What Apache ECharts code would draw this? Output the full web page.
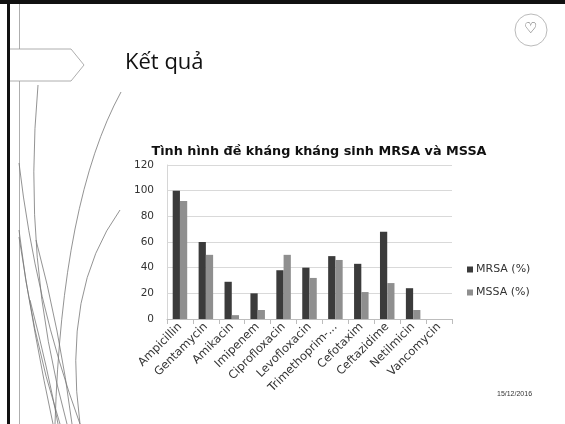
<!DOCTYPE html>
<html>
<head>
<meta charset="utf-8">
<script src="https://cdn.jsdelivr.net/npm/echarts@6/dist/echarts.min.js"></script>
<style>html,body{margin:0;padding:0;background:#fff}#c{width:565px;height:424px}</style>
</head>
<body>
<div id="c"></div>
<script>
var categories = ['Ampicillin','Gentamycin','Amikacin','Imipenem','Ciprofloxacin','Levofloxacin','Trimethoprim-...','Cefotaxim','Ceftazidime','Netilmicin','Vancomycin'];
var mrsaValues = [100, 60, 29, 20, 38, 40, 49, 43, 68, 24, 0];
var mssaValues = [92, 50, 3, 7, 50, 32, 46, 21, 28, 7, 0];
var seriesNames = ['MRSA (%)', 'MSSA (%)'];
var yTicks = {min: 0, max: 120, interval: 20};
var slideTitle = 'Kết quả';
var chartTitle = 'Tình hình đề kháng kháng sinh MRSA và MSSA';
var dateText = '15/12/2016';

var chart = echarts.init(document.getElementById('c'), null, {renderer: 'canvas'});
function curve(x1,y1,cx,cy,x2,y2,c){
  return {type:'bezierCurve', shape:{x1:x1,y1:y1,x2:x2,y2:y2,cpx1:cx,cpy1:cy}, style:{stroke:c||'#777',lineWidth:0.8,fill:null}, silent:true, z:0};
}
var option = {
  animation: false,
  backgroundColor: '#fff',
  title: {
    text: chartTitle,
    left: 314, top: 140, textAlign: 'center',
    textStyle: {fontFamily: 'DejaVu Sans', fontWeight: 'bold', fontSize: 12.8, color: '#111'}
  },
  legend: {
    data: seriesNames,
    orient: 'vertical',
    left: 462, top: 259,
    itemWidth: 6, itemHeight: 6, itemGap: 12,
    icon: 'rect',
    textStyle: {fontFamily: 'DejaVu Sans', fontSize: 11, color: '#333', padding: [0,0,0,-2]}
  },
  grid: {left: 167, right: 113, top: 165, bottom: 105, containLabel: false},
  xAxis: {
    type: 'category',
    data: categories,
    axisLine: {lineStyle: {color: '#bdbdbd'}},
    axisTick: {show: true, length: 5, lineStyle: {color: '#bdbdbd'}},
    axisLabel: {rotate: 45, interval: 0, margin: 6, fontFamily: 'DejaVu Sans', fontSize: 11.5, color: '#333'}
  },
  yAxis: {
    type: 'value',
    min: yTicks.min, max: yTicks.max, interval: yTicks.interval,
    axisLine: {show: true, lineStyle: {color: '#d6d6d6'}},
    axisTick: {show: false},
    splitLine: {lineStyle: {color: '#d9d9d9'}},
    axisLabel: {margin: 13, fontFamily: 'DejaVu Sans', fontSize: 10.5, color: '#333'}
  },
  series: [
    {name: seriesNames[0], type: 'bar', data: mrsaValues, barGap: '0%', barCategoryGap: '44%', itemStyle: {color: '#3b3b3b'}},
    {name: seriesNames[1], type: 'bar', data: mssaValues, itemStyle: {color: '#8f8f8f'}}
  ],
  graphic: [
    {type:'rect', shape:{x:0,y:0,width:565,height:4}, style:{fill:'#111'}, silent:true},
    {type:'rect', shape:{x:7,y:0,width:3,height:424}, style:{fill:'#111'}, silent:true},
    {type:'line', shape:{x1:19.5,y1:4,x2:19.5,y2:424}, style:{stroke:'#999',lineWidth:0.8}, silent:true},
    {type:'polyline', shape:{points:[[10,49],[71,49],[84,65],[71,81],[10,81]]}, style:{stroke:'#999',lineWidth:0.8,fill:'#fff'}, silent:true},
    curve(121,92,62,200,55,424),
    curve(120,210,62,290,80,424),
    curve(38,85,22,260,67,424),
    curve(19,163,35,300,80,424),
    curve(19,237,35,340,53,424),
    curve(19,230,30,330,60,424),
    curve(36,240,60,330,72,424),
    curve(30,300,48,370,58,424),
    {type:'circle', shape:{cx:531,cy:30,r:16}, style:{stroke:'#bbb',lineWidth:1,fill:'#fff'}, silent:true},
    {type:'text', left:524, top:21, style:{text:'♡', fontSize:15, fill:'#555'}, silent:true},
    {type:'text', left:125, top:52, style:{text:slideTitle, fontFamily:'Open Sans', fontSize:22, fill:'#111'}, silent:true},
    {type:'text', left:497, top:391, style:{text:dateText, fontFamily:'Liberation Sans', fontSize:7, fill:'#333'}, silent:true}
  ]
};
chart.setOption(option);
</script>
</body>
</html>
